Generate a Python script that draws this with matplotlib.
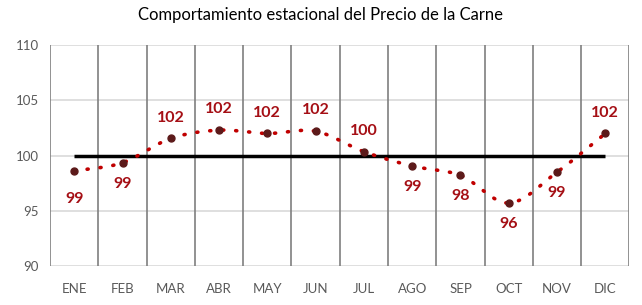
import numpy as np
import matplotlib
matplotlib.use('Agg')
import matplotlib.pyplot as plt

# Data
months = ['ENE', 'FEB', 'MAR', 'ABR', 'MAY', 'JUN', 'JUL', 'AGO', 'SEP', 'OCT', 'NOV', 'DIC']
index_values = [98.6, 99.35, 101.55, 102.3, 102.0, 102.2, 100.35, 99.05, 98.2, 95.7, 98.5, 102.0]
labels_text = ['99', '99', '102', '102', '102', '102', '100', '99', '98', '96', '99', '102']
label_above = [False, False, True, True, True, True, True, False, False, False, False, True]
baseline = 100

plt.rcParams['font.family'] = ['Lato', 'DejaVu Sans']

x = np.arange(len(months))
y = np.array(index_values)


# Excel-like smoothed line (Catmull-Rom spline through the points)
def catmull_rom(xs, ys, n=30):
    px = np.concatenate([[2 * xs[0] - xs[1]], xs, [2 * xs[-1] - xs[-2]]])
    py = np.concatenate([[2 * ys[0] - ys[1]], ys, [2 * ys[-1] - ys[-2]]])
    out_x, out_y = [], []
    t = np.linspace(0, 1, n, endpoint=False)
    for i in range(1, len(px) - 2):
        for p, out in ((px, out_x), (py, out_y)):
            p0, p1, p2, p3 = p[i - 1], p[i], p[i + 1], p[i + 2]
            seg = 0.5 * ((2 * p1) + (-p0 + p2) * t + (2 * p0 - 5 * p1 + 4 * p2 - p3) * t ** 2
                         + (-p0 + 3 * p1 - 3 * p2 + p3) * t ** 3)
            out.extend(seg)
    out_x.append(xs[-1])
    out_y.append(ys[-1])
    return np.array(out_x), np.array(out_y)


sx, sy = catmull_rom(x.astype(float), y)

fig = plt.figure(figsize=(6.42, 3.05), dpi=100)
ax = fig.add_axes([0.078, 0.128, 0.9025, 0.724])

ax.set_xlim(-0.5, len(months) - 0.5)
ax.set_ylim(90, 110)

# Grid: light horizontal lines, darker vertical separators between months
for v in [90, 95, 100, 105, 110]:
    ax.axhline(v, color='#d9d9d9', lw=1.2, zorder=0)
for b in np.arange(-0.5, len(months)):
    ax.axvline(b, color='#7f7f7f', lw=1.2, zorder=0)

for s in ax.spines.values():
    s.set_visible(False)

# Reference line at 100
ax.plot([x[0], x[-1]], [baseline, baseline], color='black', lw=2.5, zorder=2, solid_capstyle='butt')

# Smoothed dotted series
ax.plot(sx, sy, color='#c00000', lw=2.6, linestyle=(0, (0.3, 3.3)), dash_capstyle='round', zorder=3)
ax.plot(x, y, 'o', color='#5c1a1a', ms=5, zorder=4)

for xi, yi, txt, up in zip(x, y, labels_text, label_above):
    off = 15 if up else (-20 if xi == 0 else -15)
    ax.annotate(txt, (xi, yi), textcoords='offset points', xytext=(0, off),
                ha='center', va='center', fontsize=11.5, fontweight='bold', color='#a50f15')

ax.set_xticks(x)
ax.set_xticklabels(months)
ax.set_yticks([90, 95, 100, 105, 110])
ax.tick_params(axis='both', length=0, labelsize=9.5, colors='#595959', pad=8)
ax.tick_params(axis='x', pad=12)

fig.text(0.5, 0.95, 'Comportamiento estacional del Precio de la Carne', ha='center', va='center',
         fontsize=12, color='black')

fig.savefig('out.png', dpi=100)
